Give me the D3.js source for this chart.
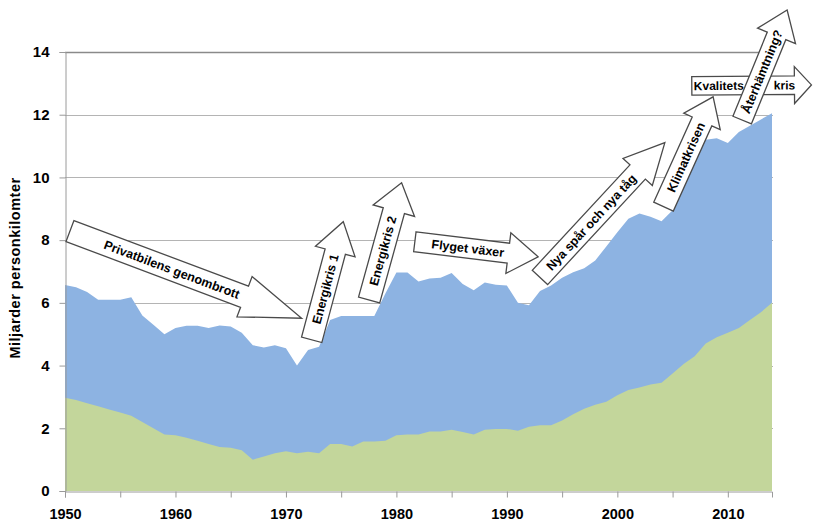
<!DOCTYPE html>
<html>
<head>
<meta charset="utf-8">
<script src="https://cdn.jsdelivr.net/npm/d3@7"></script>
<style>
  html, body { margin: 0; padding: 0; background: #fff; }
  svg { display: block; }
  text { font-family: "Liberation Sans", Arial, sans-serif; font-weight: bold; fill: #000; }
</style>
</head>
<body>
<div id="chart"></div>
<script>
// ---------- data ----------
const years = [1950,1951,1952,1953,1954,1955,1956,1957,1958,1959,
  1960,1961,1962,1963,1964,1965,1966,1967,1968,1969,
  1970,1971,1972,1973,1974,1975,1976,1977,1978,1979,
  1980,1981,1982,1983,1984,1985,1986,1987,1988,1989,
  1990,1991,1992,1993,1994,1995,1996,1997,1998,1999,
  2000,2001,2002,2003,2004,2005,2006,2007,2008,2009,
  2010,2011,2012,2013,2014];

// upper (blue) series: total, miljarder personkilometer
const totalValues = [6.57,6.50,6.35,6.10,6.10,6.10,6.18,5.60,5.30,5.00,
  5.20,5.27,5.27,5.20,5.28,5.25,5.05,4.65,4.58,4.65,
  4.55,4.00,4.50,4.60,5.45,5.58,5.58,5.58,5.58,6.30,
  6.97,6.97,6.68,6.78,6.80,6.95,6.60,6.40,6.65,6.58,
  6.55,6.00,5.92,6.38,6.55,6.80,6.98,7.10,7.35,7.80,
  8.25,8.68,8.85,8.75,8.60,8.95,9.90,10.55,11.20,11.25,
  11.10,11.45,11.65,11.85,12.05];

// lower (green) series
const lowerValues = [2.97,2.90,2.80,2.70,2.60,2.50,2.40,2.20,2.00,1.80,
  1.78,1.70,1.60,1.50,1.40,1.38,1.30,1.00,1.10,1.20,
  1.27,1.20,1.25,1.20,1.50,1.50,1.42,1.58,1.58,1.60,
  1.78,1.80,1.80,1.90,1.90,1.95,1.88,1.80,1.95,1.98,
  1.98,1.92,2.05,2.10,2.10,2.25,2.45,2.62,2.75,2.85,
  3.05,3.22,3.30,3.40,3.45,3.75,4.05,4.30,4.70,4.90,
  5.05,5.20,5.45,5.70,6.00];

const yTicks = [0,2,4,6,8,10,12,14];
const xTickLabels = [1950,1960,1970,1980,1990,2000,2010];
const xMinorTicks = [1950,1955,1960,1965,1970,1975,1980,1985,1990,1995,2000,2005,2010];
const yTitle = "Miljarder personkilomter";

// annotation arrows: tail and tip in data units (year, value)
const arrowLabels = ["Privatbilens genombrott","Energikris 1","Energikris 2","Flyget växer",
  "Nya spår och nya tåg","Klimatkrisen","Kvalitetskris","Återhämtning?"];
const arrowTail = [[1950.45,8.29],[1972.33,4.82],[1977.53,6.09],[1981.67,7.95],
  [1992.99,6.81],[2004.18,9.07],[2006.74,12.92],[2011.30,11.83]];
const arrowTip = [[1971.42,5.51],[1975.19,8.59],[1980.47,9.83],[1992.83,7.47],
  [2004.30,11.11],[2008.67,12.57],[2017.57,12.95],[2015.37,15.34]];

// ---------- layout ----------
const W = 813, H = 521;
const plot = {left: 65, right: 772, top: 52, bottom: 491};

const svg = d3.select("#chart").append("svg").attr("width", W).attr("height", H);

const x = d3.scaleLinear().domain([1950, 2014]).range([plot.left, plot.right]);
const y = d3.scaleLinear().domain([0, 14]).range([plot.bottom, plot.top]);

const rows = years.map((yr, i) => ({year: yr, total: totalValues[i], lower: lowerValues[i]}));

// gridlines
svg.append("g").selectAll("line").data(yTicks.filter(d => d > 0)).join("line")
  .attr("x1", plot.left).attr("x2", plot.right + 1)
  .attr("y1", d => Math.round(y(d)) + 0.5).attr("y2", d => Math.round(y(d)) + 0.5)
  .attr("stroke", d => d === 14 ? "#8a8a8a" : "#b4b4b4")
  .attr("stroke-width", d => d === 14 ? 1.6 : 1);

// areas
const areaTotal = d3.area().x(d => x(d.year)).y0(y(0)).y1(d => y(d.total));
const areaLower = d3.area().x(d => x(d.year)).y0(y(0)).y1(d => y(d.lower));
svg.append("path").datum(rows).attr("d", areaTotal).attr("fill", "#8db3e2");
svg.append("path").datum(rows).attr("d", areaLower).attr("fill", "#c3d69b");

// y axis
const yAxis = d3.axisLeft(y).tickValues(yTicks).tickSize(6).tickPadding(10).tickFormat(d3.format("d"));
const gy = svg.append("g").attr("transform", `translate(${plot.left + 0.5},0)`).call(yAxis);
gy.select(".domain").attr("stroke", "#9a9a9a");
gy.selectAll(".tick line").attr("stroke", "#9a9a9a");
gy.selectAll(".tick text").attr("font-size", 15).attr("font-family", "'Liberation Sans', Arial, sans-serif")
  .attr("font-weight", "bold").attr("fill", "#000");

// x axis
const xAxis = d3.axisBottom(x).tickValues(xMinorTicks).tickSize(6)
  .tickFormat(d => xTickLabels.includes(d) ? d : "").tickPadding(11);
const gx = svg.append("g").attr("transform", `translate(0,${plot.bottom + 0.5})`).call(xAxis);
gx.select(".domain").attr("stroke", "#9a9a9a");
gx.selectAll(".tick line").attr("stroke", "#9a9a9a");
gx.selectAll(".tick text").attr("font-size", 14.5).attr("font-family", "'Liberation Sans', Arial, sans-serif")
  .attr("font-weight", "bold").attr("fill", "#000");

// y title
svg.append("text")
  .attr("transform", `translate(20,268) rotate(-90)`)
  .attr("text-anchor", "middle")
  .attr("font-size", 14.5)
  .attr("letter-spacing", 0.5)
  .text(yTitle);

// arrows
function arrowPoints(L, sw, hw, hl) {
  return [[0,-sw/2],[L-hl,-sw/2],[L-hl,-hw/2],[L,0],[L-hl,hw/2],[L-hl,sw/2],[0,sw/2]];
}
const arrowShape = [
  {sw: 22.5, hw: 43, hl: 61, t: 0.44},
  {sw: 21, hw: 41, hl: 31, t: 0.43},
  {sw: 22, hw: 43, hl: 29, t: 0.42},
  {sw: 20, hw: 41, hl: 30, t: 0.43},
  {sw: 21, hw: 40, hl: 40, t: 0.41},
  {sw: 21.5, hw: 40, hl: 27, t: 0.45},
  {sw: 18.5, hw: 37, hl: 17, t: 0},
  {sw: 20, hw: 41, hl: 28, t: 0.44}
];

arrowLabels.forEach((label, i) => {
  const tx = x(arrowTail[i][0]), ty = y(arrowTail[i][1]);
  const px = x(arrowTip[i][0]), py = y(arrowTip[i][1]);
  const L = Math.hypot(px - tx, py - ty);
  const ang = Math.atan2(py - ty, px - tx) * 180 / Math.PI;
  const s = arrowShape[i];
  const g = svg.append("g").attr("transform", `translate(${tx},${ty}) rotate(${ang})`);
  g.append("polygon")
    .attr("points", arrowPoints(L, s.sw, s.hw, s.hl).map(p => p.join(",")).join(" "))
    .attr("fill", "#fff").attr("stroke", "#4a4a4a").attr("stroke-width", 1.3)
    .attr("stroke-linejoin", "miter");
  if (label === "Kvalitetskris") {
    g.append("text").attr("x", 2).attr("y", 0).attr("dy", "0.36em")
      .attr("font-size", 12).attr("text-anchor", "start").text("Kvalitets");
    g.append("text").attr("x", 82).attr("y", 0).attr("dy", "0.36em")
      .attr("font-size", 12).attr("text-anchor", "start").text("kris");
  } else {
    g.append("text").attr("x", s.t * L).attr("y", 0).attr("dy", "0.36em")
      .attr("font-size", 12.5).attr("text-anchor", "middle").text(label);
  }
});
</script>
</body>
</html>
